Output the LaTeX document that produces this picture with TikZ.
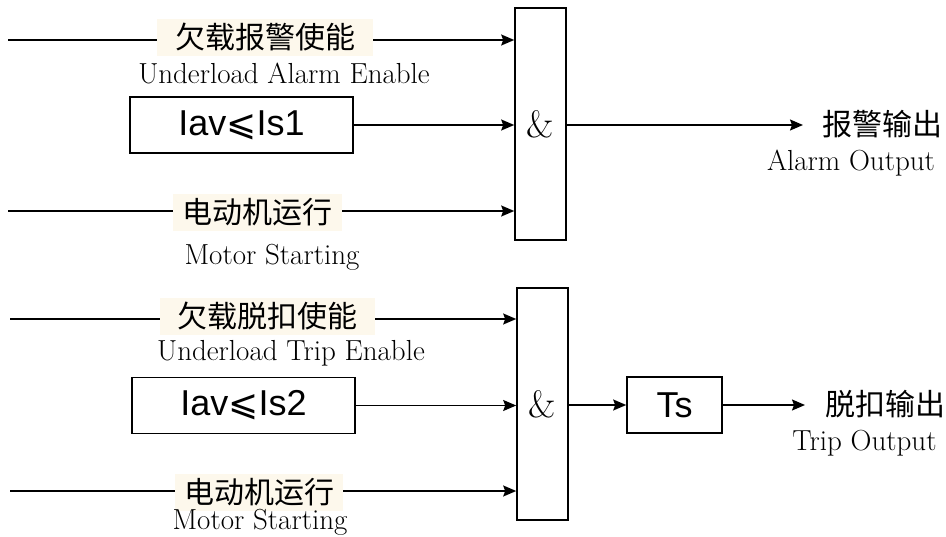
\documentclass[tikz,border=0pt]{standalone}
\usepackage{fontspec}
\newfontfamily\cjk{Noto Sans CJK SC}
\newfontfamily\arial{Liberation Sans}
\newfontfamily\dejavu{DejaVu Sans}
\usetikzlibrary{arrows.meta}
\definecolor{labelbg}{RGB}{253,248,236}
\begin{document}
\begin{tikzpicture}[x=1pt,y=-1pt,
  wire/.style={line width=1.6pt},
  arr/.style={wire,-{Stealth[length=13pt,width=11pt,inset=2pt]}},
  lbl/.style={fill=labelbg, font=\cjk\fontsize{30}{30}\selectfont, inner sep=0pt, minimum height=37pt},
  cjkout/.style={font=\cjk\fontsize{30}{30}\selectfont, inner sep=0pt, anchor=west},
  en/.style={font=\fontsize{29}{29}\selectfont, inner sep=0pt},
  cmp/.style={draw, line width=1.6pt, font=\arial\fontsize{36}{36}\selectfont, inner sep=0pt, minimum height=56pt},
  gate/.style={draw, line width=1.6pt, minimum width=51pt, minimum height=232pt, inner sep=0pt, font=\fontsize{38}{38}\selectfont},
]
\useasboundingbox (0,0) rectangle (946,536);

% ---------- top: alarm ----------
\coordinate (a1s) at (8,40);
\node[lbl, minimum width=216pt] (a1l) at (265,37) {欠载报警使能};
\node[en] (a1e) at (284,73) {Underload Alarm Enable};
\node[cmp, minimum width=223pt] (a1c) at (241.5,125) {Iav{\dejavu ⩽}Is1};
\coordinate (a3s) at (8,211);
\node[lbl, minimum width=169pt] (a3l) at (257.5,212) {电动机运行};
\node[en] (a3e) at (272,257) {Motor Starting};
\node[gate] (g1) at (540.5,124) {\&};
\coordinate (o1) at (803,125);
\node[cjkout] (o1c) at (822,124) {报警输出};
\node[en] (o1e) at (851,163) {Alarm Output};

\draw[wire] (a1s) -- (a1l.west |- a1s);
\draw[arr] (a1l.east |- a1s) -- (a1s -| g1.west);
\draw[arr] (a1c.east) -- (a1c -| g1.west);
\draw[wire] (a3s) -- (a3l.west |- a3s);
\draw[arr] (a3l.east |- a3s) -- (a3s -| g1.west);
\draw[arr] (g1.east |- o1) -- (o1);

% ---------- bottom: trip ----------
\coordinate (a2s) at (10,319);
\node[lbl, minimum width=215pt] (a2l) at (267.5,316) {欠载脱扣使能};
\node[en] (a2e) at (291,353) {Underload Trip Enable};
\node[cmp, minimum width=223pt] (a2c) at (243.5,405.5) {Iav{\dejavu ⩽}Is2};
\coordinate (a4s) at (10,491);
\node[lbl, minimum width=168pt] (a4l) at (259,492) {电动机运行};
\node[en] (a4e) at (260,522) {Motor Starting};
\node[gate] (g2) at (542.5,404) {\&};
\node[cmp, minimum width=95pt] (ts) at (674.5,405) {Ts};
\coordinate (o2) at (805,405);
\node[cjkout] (o2c) at (825,404) {脱扣输出};
\node[en] (o2e) at (864.5,443) {Trip Output};

\draw[wire] (a2s) -- (a2l.west |- a2s);
\draw[arr] (a2l.east |- a2s) -- (a2s -| g2.west);
\draw[arr] (a2c.east) -- (a2c -| g2.west);
\draw[wire] (a4s) -- (a4l.west |- a4s);
\draw[arr] (a4l.east |- a4s) -- (a4s -| g2.west);
\draw[arr] (g2.east |- ts) -- (ts.west);
\draw[arr] (ts.east) -- (o2);
\end{tikzpicture}
\end{document}
